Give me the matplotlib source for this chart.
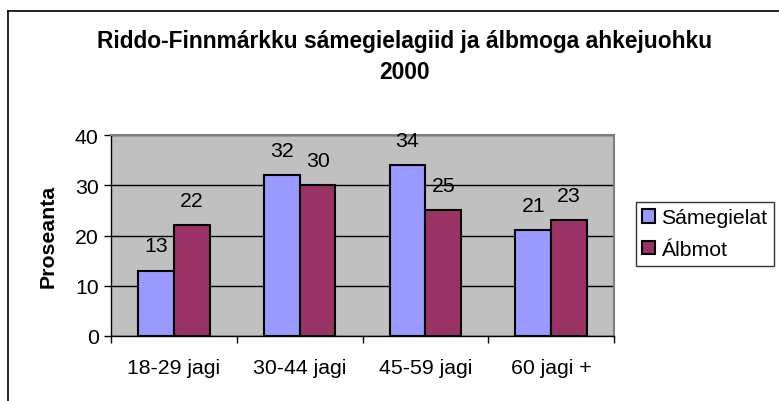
import matplotlib
matplotlib.use("Agg")
import matplotlib.pyplot as plt
import numpy as np
from matplotlib.lines import Line2D

categories = ["18-29 jagi", "30-44 jagi", "45-59 jagi", "60 jagi +"]
samegielat = [13, 32, 34, 21]
albmot = [22, 30, 25, 23]
series_names = ["Sámegielat", "Álbmot"]
title = "Riddo-Finnmárkku sámegielagiid ja álbmoga ahkejuohku\n2000"
ylabel = "Proseanta"
yticks = [0, 10, 20, 30, 40]

plt.rcParams['font.family'] = ['Liberation Sans', 'DejaVu Sans']

W, H = 779, 402
fig = plt.figure(figsize=(W/100, H/100), dpi=100)
fig.patch.set_facecolor('white')

FS = 15.3

l, r, t, b = 111, 614, 136, 337
ax = fig.add_axes([l/W, 1 - b/H, (r-l)/W, (b-t)/H])
ax.set_facecolor('#C0C0C0')

x = np.arange(len(categories))
bw = 0.285
c1, c2 = '#9999FF', '#993366'
b1 = ax.bar(x - bw/2, samegielat, bw, color=c1, edgecolor='black', linewidth=1.5, zorder=3, label=series_names[0])
b2 = ax.bar(x + bw/2, albmot, bw, color=c2, edgecolor='black', linewidth=1.5, zorder=3, label=series_names[1])

for bars, vals in ((b1, samegielat), (b2, albmot)):
    for rect, v in zip(bars, vals):
        ax.annotate(str(v), (rect.get_x() + rect.get_width()/2, v), xytext=(0, 18),
                    textcoords='offset points', ha='center', va='center', fontsize=FS, zorder=4,
                    annotation_clip=False)

ax.set_xlim(-0.5, len(categories) - 0.5)
ax.set_ylim(0, 40)
ax.set_yticks(yticks)
ax.set_yticklabels([str(v) for v in yticks], fontsize=FS)
ax.yaxis.grid(True, color='black', linewidth=1, zorder=1)
ax.set_axisbelow(True)

ax.set_xticks(np.arange(-0.5, len(categories), 1.0))
ax.set_xticklabels([])
ax.set_xticks(x, minor=True)
ax.set_xticklabels(categories, minor=True, fontsize=FS)
ax.tick_params(axis='x', which='minor', length=0, pad=16)
ax.tick_params(axis='x', which='major', length=5, width=1, color='black', direction='out')
ax.tick_params(axis='y', length=5, width=1, color='black', direction='out', pad=4)

for s in ('top', 'right'):
    ax.spines[s].set_color('#808080')
    ax.spines[s].set_linewidth(1.5)
for s in ('left', 'bottom'):
    ax.spines[s].set_color('black')
    ax.spines[s].set_linewidth(1)

ax.set_ylabel(ylabel, fontsize=FS, fontweight='bold', labelpad=12)

fig.text(405/W, 1 - 57/H, title, ha='center', va='center', fontsize=16.4, fontweight='bold',
         linespacing=1.4)

leg = fig.legend(handles=[b1, b2], labels=series_names, loc='upper left',
                 bbox_to_anchor=(636/W, 1 - 203/H), fontsize=FS, frameon=True,
                 fancybox=False, edgecolor='black', handlelength=0.6, handleheight=0.6,
                 handletextpad=0.3, borderpad=0.3, labelspacing=0.6, borderaxespad=0)
leg.get_frame().set_linewidth(1)

fig.add_artist(Line2D([7.5/W, 7.5/W], [0, 1 - 12/H], color='black', linewidth=1.2, transform=fig.transFigure))
fig.add_artist(Line2D([7.5/W, 1], [1 - 12/H, 1 - 12/H], color='black', linewidth=1.2, transform=fig.transFigure))

fig.savefig('out.png', dpi=100, facecolor='white')
